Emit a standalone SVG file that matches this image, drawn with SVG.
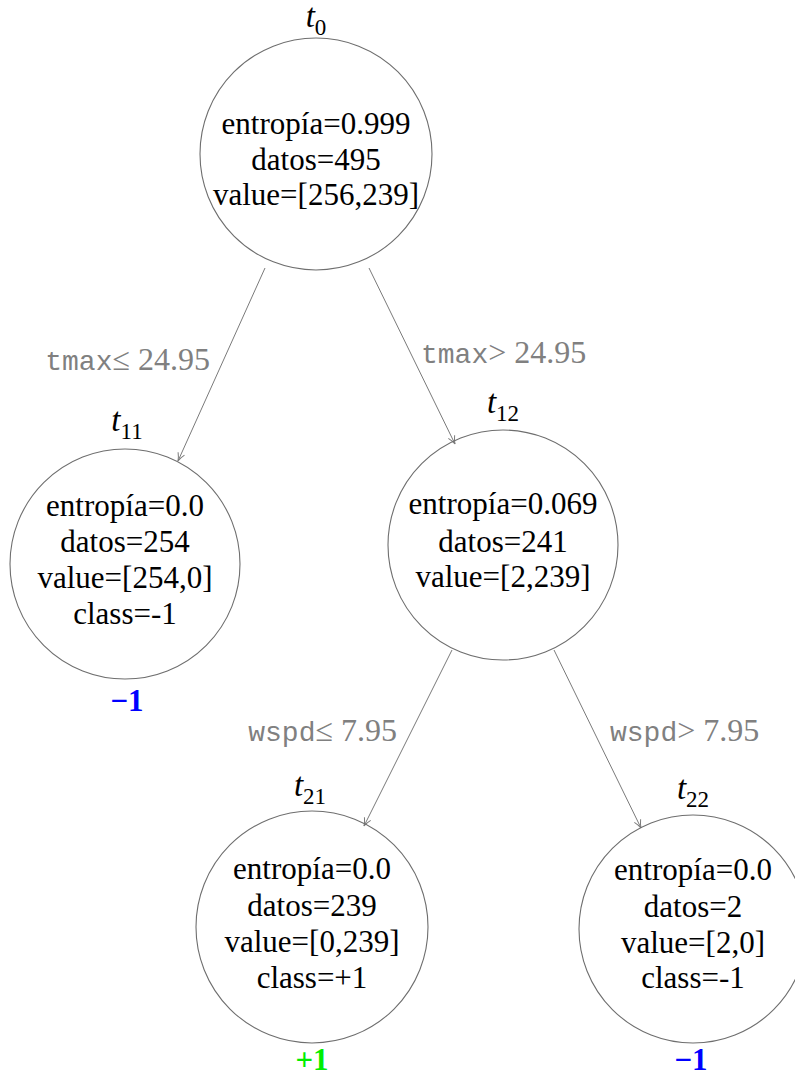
<svg xmlns="http://www.w3.org/2000/svg" width="795" height="1079" viewBox="0 0 795 1079">
  <style>
    .node { fill: none; stroke: #6e6e6e; stroke-width: 1.1; }
    .txt { font-family: 'Liberation Serif', 'DejaVu Serif', serif; font-size: 31px; fill: #000; text-anchor: middle; }
    .name { font-family: 'Liberation Serif', 'DejaVu Serif', serif; font-size: 33px; font-style: italic; fill: #000; text-anchor: middle; }
    .sub { font-style: normal; font-size: 23px; }
    .edge { stroke: #7a7a7a; stroke-width: 1; fill: none; marker-end: url(#tip); }
    .cond { font-family: 'Liberation Serif', 'DejaVu Serif', serif; font-size: 32px; fill: #808080; }
    .mono { font-family: 'Liberation Mono', 'DejaVu Sans Mono', monospace; font-size: 28px; }
    .cls { font-family: 'Liberation Serif', 'DejaVu Serif', serif; font-size: 31px; font-weight: bold; text-anchor: middle; }
    .neg { fill: #0000ff; }
    .pos { fill: #00ee00; }
  </style>
  <defs>
    <marker id="tip" viewBox="0 0 10 10" refX="9" refY="5" markerWidth="10" markerHeight="10" markerUnits="userSpaceOnUse" orient="auto">
      <path d="M1,1.5 Q5,4 9,5 Q5,6 1,8.5" fill="none" stroke="#7a7a7a" stroke-width="1"/>
    </marker>
  </defs>

  <g id="connectors">
    <line class="edge" x1="265" y1="268" x2="178" y2="461"/>
    <line class="edge" x1="369" y1="268" x2="455" y2="444"/>
    <line class="edge" x1="452" y1="650" x2="364" y2="826"/>
    <line class="edge" x1="554" y1="650" x2="641" y2="828"/>
    <text class="cond" x="210" y="370" text-anchor="end"><tspan class="mono">tmax</tspan>≤ 24.95</text>
    <text class="cond" x="421" y="363"><tspan class="mono">tmax</tspan>&gt; 24.95</text>
    <text class="cond" x="397" y="741" text-anchor="end"><tspan class="mono">wspd</tspan>≤ 7.95</text>
    <text class="cond" x="610" y="741"><tspan class="mono">wspd</tspan>&gt; 7.95</text>
  </g>

  <g id="t0">
    <circle class="node" cx="316" cy="154" r="116"/>
    <text class="name" x="316" y="27">t<tspan class="sub" dy="8">0</tspan></text>
    <text class="txt" x="316" y="134">entropía=0.999</text>
    <text class="txt" x="316" y="170">datos=495</text>
    <text class="txt" x="316" y="205">value=[256,239]</text>
  </g>

  <g id="t11">
    <circle class="node" cx="125" cy="564" r="115"/>
    <text class="name" x="127" y="431">t<tspan class="sub" dy="8">11</tspan></text>
    <text class="txt" x="125" y="516">entropía=0.0</text>
    <text class="txt" x="125" y="552">datos=254</text>
    <text class="txt" x="125" y="588">value=[254,0]</text>
    <text class="txt" x="125" y="624">class=-1</text>
    <text class="cls neg" x="127" y="711">−1</text>
  </g>

  <g id="t12">
    <circle class="node" cx="503" cy="545" r="115"/>
    <text class="name" x="503" y="413">t<tspan class="sub" dy="8">12</tspan></text>
    <text class="txt" x="503" y="514">entropía=0.069</text>
    <text class="txt" x="503" y="552">datos=241</text>
    <text class="txt" x="503" y="587">value=[2,239]</text>
  </g>

  <g id="t21">
    <circle class="node" cx="312" cy="927" r="116"/>
    <text class="name" x="310" y="796">t<tspan class="sub" dy="8">21</tspan></text>
    <text class="txt" x="312" y="879">entropía=0.0</text>
    <text class="txt" x="312" y="916">datos=239</text>
    <text class="txt" x="312" y="952">value=[0,239]</text>
    <text class="txt" x="312" y="988">class=+1</text>
    <text class="cls pos" x="312" y="1070">+1</text>
  </g>

  <g id="t22">
    <circle class="node" cx="693" cy="929" r="114"/>
    <text class="name" x="693" y="799">t<tspan class="sub" dy="8">22</tspan></text>
    <text class="txt" x="693" y="880">entropía=0.0</text>
    <text class="txt" x="693" y="917">datos=2</text>
    <text class="txt" x="693" y="953">value=[2,0]</text>
    <text class="txt" x="693" y="988">class=-1</text>
    <text class="cls neg" x="691" y="1070">−1</text>
  </g>
</svg>
